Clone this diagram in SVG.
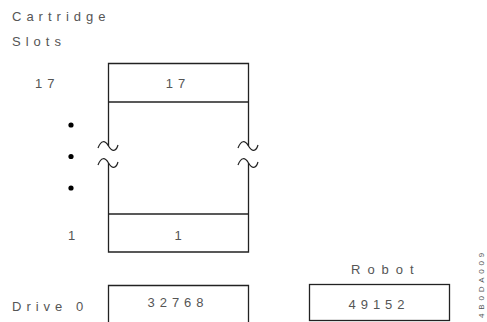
<svg xmlns="http://www.w3.org/2000/svg" width="487" height="322" viewBox="0 0 487 322">
<style>
text{font-family:"Liberation Sans",Arial,sans-serif;font-size:13px;fill:#555;}
.ls{letter-spacing:5px;}
.ln{fill:none;stroke:#222;stroke-width:1.3;}
.til{fill:none;stroke:#222;stroke-width:1.2;}
</style>
<rect width="487" height="322" fill="#fff"/>
<g id="labels">
<text x="12" y="21" class="ls">Cartridge</text>
<text x="12" y="46" class="ls">Slots</text>
<text x="35" y="88" class="ls">17</text>
<text x="68" y="240">1</text>
<text x="12" y="311" class="ls">Drive 0</text>
<text x="351" y="274" style="letter-spacing:7px">Robot</text>
<text transform="translate(484,318) rotate(-90)" style="font-size:8px;letter-spacing:3.8px">4B0DA009</text>
</g>
<g id="dots" fill="#000">
<circle cx="71" cy="125" r="2.6"/>
<circle cx="71" cy="156.5" r="2.6"/>
<circle cx="71" cy="188" r="2.6"/>
</g>
<g id="slots">
<path class="ln" d="M108.5,146 V63.5 H248.5 V146"/>
<path class="ln" d="M108.5,163 V252 H248.5 V163"/>
<line class="ln" x1="108.5" y1="102" x2="248.5" y2="102"/>
<line class="ln" x1="108.5" y1="214" x2="248.5" y2="214"/>
<path class="til" d="M98,148 C101,140 105,140 108.5,146 C112,152 116,152 118,145"/>
<path class="til" d="M98,165 C101,157 105,157 108.5,163 C112,169 116,169 118,162"/>
<path class="til" d="M238,148 C241,140 245,140 248.5,146 C252,152 256,152 258,145"/>
<path class="til" d="M238,165 C241,157 245,157 248.5,163 C252,169 256,169 258,162"/>
<text x="178" y="88" text-anchor="middle" class="ls">17</text>
<text x="178" y="240" text-anchor="middle">1</text>
</g>
<g id="drive0">
<path class="ln" d="M108.5,323 V285.5 H248.5 V323"/>
<text x="178" y="307" text-anchor="middle" class="ls">32768</text>
</g>
<g id="robot">
<rect class="ln" x="309.5" y="284.5" width="140" height="36"/>
<text x="379" y="309" text-anchor="middle" class="ls">49152</text>
</g>
<g id="connectors"></g>
</svg>
